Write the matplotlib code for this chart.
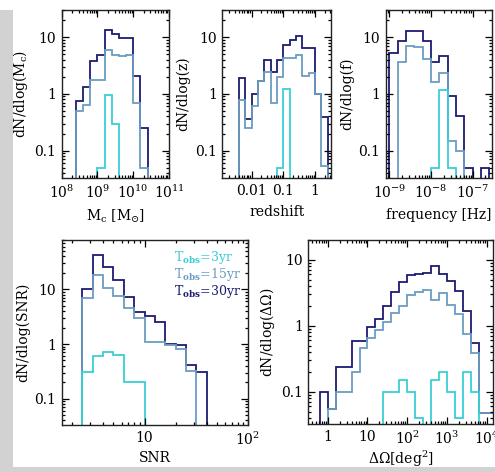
import numpy as np
import matplotlib
matplotlib.use("Agg")
import matplotlib.pyplot as plt
from matplotlib.ticker import FixedLocator, FixedFormatter, LogLocator, NullFormatter
from matplotlib.patches import Rectangle

plt.rcParams['font.family'] = ['DejaVu Serif']
plt.rcParams['mathtext.fontset'] = 'dejavuserif'

# ---------------- data ----------------
series_labels = ["3yr", "15yr", "30yr"]
col_3 = "#38cfd6"
col_15 = "#6b9cc2"
col_30 = "#1b1b72"

# chirp mass (log10 Mc bin edges)
mc_edges = [8.4, 8.6, 8.8, 9.0, 9.2, 9.4, 9.6, 9.8, 10.0, 10.2, 10.4]
mc_30 = [0.75, 1.3, 3.8, 4.9, 13.5, 11.5, 9.6, 9.6, 2.1, 0.25]
mc_15 = [0.49, 0.64, 1.75, 1.75, 6.0, 4.9, 4.6, 4.9, 0.69, 0.05]
mc_3 = [0, 0, 0, 0.05, 0.95, 0.30, 0, 0, 0, 0]

# redshift (log10 z bin edges)
z_edges = [-2.4, -2.2, -2.0, -1.8, -1.6, -1.4, -1.2, -1.0, -0.8, -0.6, -0.4, -0.2, 0.0, 0.2, 0.4]
z_30 = [1.9, 0.36, 1.0, 1.7, 3.9, 2.4, 3.9, 7.3, 8.8, 10.3, 6.4, 6.4, 1.0, 0.39]
z_15 = [0.78, 0.25, 0.6, 1.7, 2.4, 0.7, 2.0, 4.2, 4.3, 4.9, 2.1, 2.3, 1.0, 0.053]
z_3 = [0, 0, 0, 0, 0, 0, 0.05, 1.2, 0, 0, 0, 0, 0, 0]

# frequency (log10 f bin edges)
f_edges = [-9.0, -8.8, -8.6, -8.4, -8.2, -8.0, -7.8, -7.6, -7.4, -7.2, -7.0, -6.8, -6.6]
f_30 = [5.2, 8.7, 12.8, 12.8, 8.7, 3.6, 4.6, 0.9, 0.40, 0.049, 0, 0.049]
f_15 = [0, 3.6, 7.1, 6.6, 4.1, 1.65, 2.35, 0.15, 0.097, 0, 0, 0]
f_3 = [0, 0, 0, 0, 0, 0.049, 1.19, 0.049, 0, 0, 0, 0]

# SNR (log10 SNR bin edges)
snr_edges = [0.4, 0.5, 0.6, 0.7, 0.8, 0.9, 1.0, 1.1, 1.2, 1.3, 1.4, 1.5, 1.6]
snr_30 = [10, 43, 26, 15, 7.4, 3.8, 3.2, 2.5, 1.0, 0.95, 0.41, 0.31]
snr_15 = [7.0, 18, 10.5, 7.6, 4.6, 3.0, 1.1, 1.07, 0.96, 0.80, 0.32, 0]
snr_3 = [0.31, 0.61, 0.70, 0.63, 0.2, 0.2, 0, 0, 0, 0, 0, 0]

# sky localisation (log10 deg^2 bin edges)
dom_edges = [-0.2, 0.0, 0.2, 0.4, 0.6, 0.8, 1.0, 1.2, 1.4, 1.6, 1.8, 2.0,
             2.2, 2.4, 2.6, 2.8, 3.0, 3.2, 3.4, 3.6, 3.8, 4.0, 4.2]
dom_30 = [0.1, 0.055, 0.24, 0.24, 0.58, 0.58, 0.95, 1.25, 2.0, 3.3, 4.6, 5.9,
          6.1, 6.3, 8.2, 6.1, 4.7, 3.4, 1.7, 0.55, 0.048, 0.048]
dom_15 = [0, 0.055, 0.1, 0.1, 0.2, 0.46, 0.65, 0.85, 1.16, 1.56, 2.0, 2.9,
          3.3, 3.5, 2.5, 3.1, 2.1, 1.5, 0.75, 0.38, 0.048, 0.048]
dom_3 = [0, 0, 0, 0, 0, 0, 0, 0, 0.1, 0.1, 0.15, 0.1,
         0.04, 0, 0.15, 0.2, 0.1, 0.04, 0.2, 0.1, 0, 0]

# tick labels
mc_ticks = [1e8, 1e9, 1e10, 1e11]
mc_ticklabels = [r"$10^{8}$", r"$10^{9}$", r"$10^{10}$", r"$10^{11}$"]
z_ticks = [0.01, 0.1, 1]
z_ticklabels = ["0.01", "0.1", "1"]
f_ticks = [1e-9, 1e-8, 1e-7]
f_ticklabels = [r"$10^{-9}$", r"$10^{-8}$", r"$10^{-7}$"]
snr_ticks = [10, 100]
snr_ticklabels = ["10", r"$10^{2}$"]
dom_ticks = [1, 10, 100, 1000, 10000]
dom_ticklabels = ["1", "10", r"$10^{2}$", r"$10^{3}$", r"$10^{4}$"]
y_ticks = [0.1, 1, 10]
y_ticklabels = ["0.1", "1", "10"]

# ---------------- figure ----------------
W, H = 495, 472
fig = plt.figure(figsize=(W / 100, H / 100), dpi=100)
fig.patch.set_facecolor("white")

# slide-card shadow
fig.patches.append(Rectangle((0, 0), 13 / W, (H - 10) / H, transform=fig.transFigure,
                             facecolor="#d2d2d2", edgecolor="none", zorder=-10))
fig.patches.append(Rectangle((0, 0), 1, 5 / H, transform=fig.transFigure,
                             facecolor="#d2d2d2", edgecolor="none", zorder=-10))


def px_axes(left, right, top, bottom):
    return fig.add_axes([left / W, (H - bottom) / H, (right - left) / W, (bottom - top) / H])


def style(ax, xlim, ylim, xt, xtl, xlabel, ylabel, xpad=5):
    ax.set_xscale("log")
    ax.set_yscale("log")
    ax.set_xlim(*xlim)
    ax.set_ylim(*ylim)
    ax.xaxis.set_major_locator(FixedLocator(xt))
    ax.xaxis.set_major_formatter(FixedFormatter(xtl))
    ax.yaxis.set_major_locator(FixedLocator(y_ticks))
    ax.yaxis.set_major_formatter(FixedFormatter(y_ticklabels))
    for a in (ax.xaxis, ax.yaxis):
        a.set_minor_locator(LogLocator(base=10, subs=np.arange(2, 10) * 1.0, numticks=60))
        a.set_minor_formatter(NullFormatter())
    ax.tick_params(which="both", direction="in", top=True, right=True, labelsize=10,
                   width=0.9, colors="black")
    ax.tick_params(which="major", length=5, pad=4)
    ax.tick_params(which="minor", length=2.5)
    for s in ax.spines.values():
        s.set_linewidth(1.0)
        s.set_color("#222222")
    ax.set_xlabel(xlabel, fontsize=10, labelpad=xpad)
    ax.set_ylabel(ylabel, fontsize=10, labelpad=3)


def draw(ax, edges_log, vals_list):
    edges = 10 ** np.asarray(edges_log, float)
    for vals, c in vals_list:
        v = np.asarray(vals, float)
        v = np.where(v > 0, v, 1e-4)
        ax.stairs(v, edges, baseline=1e-4, color=c, lw=1.3)


ax1 = px_axes(61.7, 169, 10, 178)
draw(ax1, mc_edges, [(mc_30, col_30), (mc_15, col_15), (mc_3, col_3)])
style(ax1, (1e8, 1e11), (0.033, 30), mc_ticks, mc_ticklabels,
      r"M$_{\rm c}$ [M$_{\odot}$]", r"dN/dlog(M$_{\rm c}$)")

ax2 = px_axes(222.3, 331, 10, 178)
draw(ax2, z_edges, [(z_30, col_30), (z_15, col_15), (z_3, col_3)])
style(ax2, (10 ** -2.92, 10 ** 0.5), (0.033, 30), z_ticks, z_ticklabels,
      "redshift", "dN/dlog(z)")

ax3 = px_axes(385.7, 492, 10, 178)
draw(ax3, f_edges, [(f_30, col_30), (f_15, col_15), (f_3, col_3)])
style(ax3, (10 ** -9.09, 10 ** -6.54), (0.033, 30), f_ticks, f_ticklabels,
      "frequency [Hz]", "dN/dlog(f)")

ax4 = px_axes(61.7, 248, 240, 425)
draw(ax4, snr_edges, [(snr_30, col_30), (snr_15, col_15), (snr_3, col_3)])
style(ax4, (10 ** 0.2, 100), (0.033, 80), snr_ticks, snr_ticklabels,
      "SNR", "dN/dlog(SNR)", xpad=2)
for txt, c, yy in [(series_labels[0], col_3, 0.903), (series_labels[1], col_15, 0.816),
                   (series_labels[2], col_30, 0.722)]:
    ax4.text(0.605, yy, r"T$_{\bf obs}$=" + txt, color=c, fontsize=9,
             transform=ax4.transAxes, ha="left", va="center")

ax5 = px_axes(308.3, 493.3, 240, 424.3)
draw(ax5, dom_edges, [(dom_30, col_30), (dom_15, col_15), (dom_3, col_3)])
style(ax5, (10 ** -0.49, 10 ** 4.17), (0.032, 20), dom_ticks, dom_ticklabels,
      r"$\Delta\Omega$[deg$^{2}$]", r"dN/dlog($\Delta\Omega$)", xpad=1)

fig.savefig("out.png", dpi=100, facecolor=fig.get_facecolor())
